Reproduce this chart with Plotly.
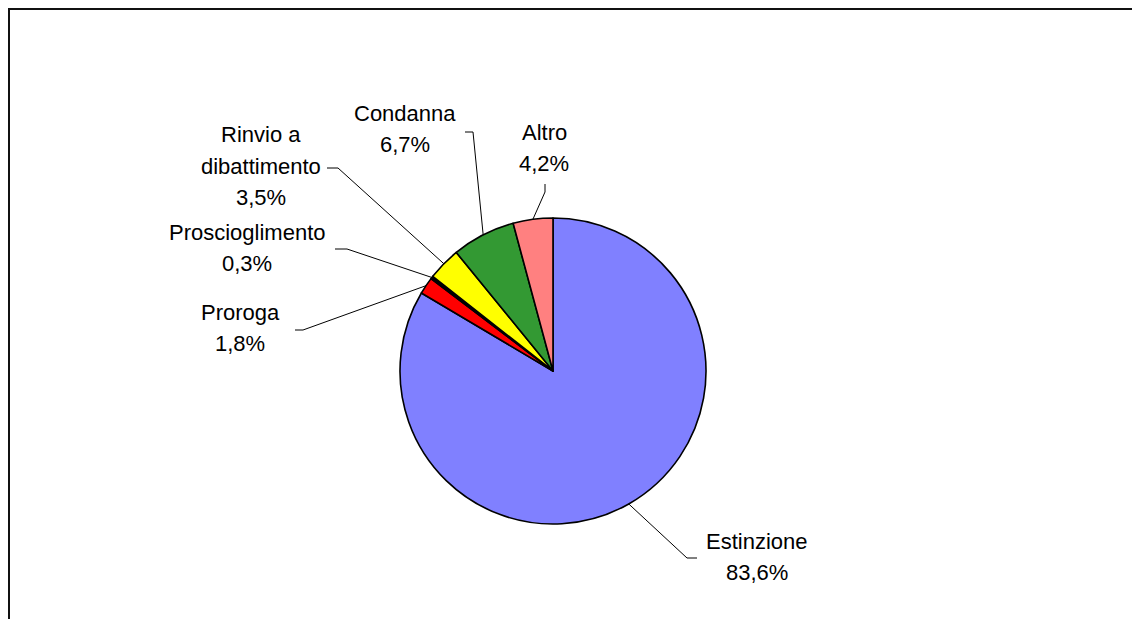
import math
import plotly.graph_objects as go

# page body has an 8px margin: the figure is drawn at (8, 8)
OFF = 8
W, H = 1140 - OFF, 619 - OFF

# ---- data ----
categories = ["Estinzione", "Proroga", "Proscioglimento", "Rinvio a dibattimento", "Condanna", "Altro"]
values = [83.6, 1.8, 0.3, 3.5, 6.7, 4.2]
pct_labels = ["83,6%", "1,8%", "0,3%", "3,5%", "6,7%", "4,2%"]
name_lines = [["Estinzione"], ["Proroga"], ["Proscioglimento"], ["Rinvio a", "dibattimento"], ["Condanna"], ["Altro"]]
colors = ["#8080FF", "#FF0000", "#000000", "#FFFF00", "#339933", "#FF8080"]

# ---- layout (screen pixels) ----
cx, cy, R = 553, 371, 153
label_first_line = [(757, 541), (240, 312), (247, 232), (261, 135), (405, 114), (544, 132)]
label_leader_start = [
    [(697, 558), (687, 558)],
    [(295, 330), (303, 330)],
    [(335, 249), (347, 249)],
    [(327, 168), (338, 168)],
    [(465, 132), (473, 132)],
    [(545, 184), (545, 192)],
]
line_gap = 31
FONT = "Liberation Sans, Arial, sans-serif"


def X(px):
    return (px - OFF) / W


def Y(py):
    return 1 - (py - OFF) / H


fig = go.Figure()
fig.add_trace(go.Pie(
    labels=categories,
    values=values,
    sort=False,
    direction="clockwise",
    rotation=0,
    marker=dict(colors=colors, line=dict(color="#000000", width=1.6)),
    textinfo="none",
    hoverinfo="label+percent",
    showlegend=False,
    domain=dict(x=[X(cx - R), X(cx + R)], y=[Y(cy + R), Y(cy - R)]),
))

annotations = []
shapes = []
total = sum(values)
cum = 0.0
for i, v in enumerate(values):
    mid = (cum + v / 2) / total * 2 * math.pi
    cum += v
    ex = cx + R * math.sin(mid)
    ey = cy - R * math.cos(mid)
    lines = name_lines[i] + [pct_labels[i]]
    lx, ly = label_first_line[i]
    for k, t in enumerate(lines):
        annotations.append(dict(
            x=X(lx), y=Y(ly + k * line_gap), xref="paper", yref="paper",
            text=t, showarrow=False, xanchor="center", yanchor="middle",
            font=dict(family=FONT, size=22, color="#000000"),
        ))
    pts = label_leader_start[i] + [(ex, ey)]
    path = "M " + " L ".join(f"{X(px)},{Y(py)}" for px, py in pts)
    shapes.append(dict(type="path", path=path, xref="paper", yref="paper",
                       line=dict(color="#000000", width=1)))

# outer chart border
shapes.append(dict(type="rect", xref="paper", yref="paper",
                   x0=X(9), x1=X(1160), y0=Y(640), y1=Y(9),
                   line=dict(color="#111111", width=2), fillcolor="rgba(0,0,0,0)"))

fig.update_layout(
    width=W, height=H,
    margin=dict(l=0, r=0, t=0, b=0),
    paper_bgcolor="#FFFFFF",
    plot_bgcolor="#FFFFFF",
    annotations=annotations,
    shapes=shapes,
)

fig.write_html("out.html")
